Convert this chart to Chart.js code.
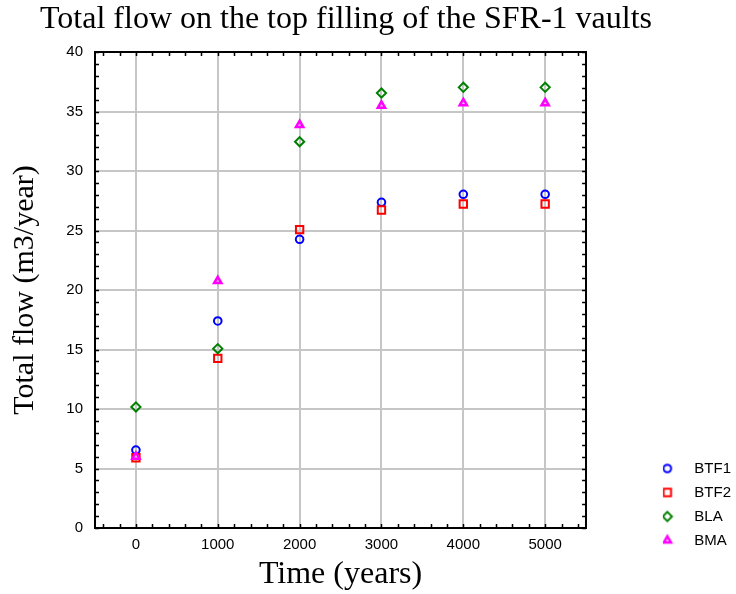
<!DOCTYPE html>
<html><head><meta charset="utf-8">
<script src="https://cdn.jsdelivr.net/npm/chart.js@4/dist/chart.umd.min.js"></script>
<style>html,body{margin:0;padding:0;background:#fff}</style>
</head><body>
<canvas id="c" width="736" height="594"></canvas>
<script>
// ---- data ----
const years = [0, 1000, 2000, 3000, 4000, 5000];
const btf1 = [6.55, 17.4, 24.26, 27.37, 28.04, 28.04];
const btf2 = [5.9, 14.26, 25.07, 26.72, 27.23, 27.23];
const bla  = [10.17, 15.07, 32.46, 36.55, 37.03, 37.03];
const bma  = [6.0, 20.76, 33.87, 35.5, 35.7, 35.7];
const seriesNames = ['BTF1', 'BTF2', 'BLA', 'BMA'];
const xTickValues = [0, 1000, 2000, 3000, 4000, 5000];
const yTickValues = [0, 5, 10, 15, 20, 25, 30, 35, 40];
const xMinorStep = 200;
const yMinorStep = 1;
const titleText = 'Total flow on the top filling of the SFR-1 vaults';
const xTitle = 'Time (years)';
const yTitle = 'Total flow (m3/year)';

// ---- styling ----
const seriesValues = [btf1, btf2, bla, bma];
const colors = ['#0000ff', '#ff0000', '#008000', '#ff00ff'];
const styles = ['circle', 'rect', 'rectRot', 'triangle'];
const radii = [3.8, 5.2, 4.6, 4.2];
const borderW = [2, 2, 2, 2.5];

const LEGEND_FONT = 15;
const LEGEND_PAD = 9;
const LEGEND_DY = 29;
const RIGHT_GAP = 76.75;
const TITLE_RIGHT = 692;

Chart.defaults.color = '#000';
Chart.defaults.font.family = '"Liberation Sans", Arial, sans-serif';

function legendMarker(i) {
  const W = 44, H = 18;
  const cv = document.createElement('canvas');
  cv.width = W; cv.height = H;
  const g = cv.getContext('2d');
  g.strokeStyle = colors[i];
  g.fillStyle = 'rgba(0,0,0,0)';
  g.lineWidth = borderW[i];
  // marker centre sits 27px left of the label text
  const cx = LEGEND_FONT / 2 + LEGEND_FONT / 2 - 27 + W / 2;
  if (Chart.helpers && Chart.helpers.drawPoint) {
    Chart.helpers.drawPoint(g, {pointStyle: styles[i], radius: radii[i], borderWidth: borderW[i], rotation: 0}, cx, H / 2);
  }
  return cv;
}

const datasets = seriesNames.map((name, i) => ({
  label: name,
  data: years.map((t, k) => ({x: t, y: seriesValues[i][k]})),
  pointStyle: styles[i],
  pointRadius: radii[i],
  pointHoverRadius: radii[i],
  pointBorderWidth: borderW[i],
  borderColor: colors[i],
  backgroundColor: 'rgba(0,0,0,0)',
  showLine: false,
  order: seriesNames.length - i
}));

const minorTicks = {
  id: 'minorTicks',
  afterDraw(chart) {
    const {ctx, chartArea: a, scales: {x, y}} = chart;
    ctx.save();
    ctx.strokeStyle = '#000';
    ctx.lineWidth = 1.5;
    ctx.beginPath();
    for (let v = y.min; v <= y.max + 1e-9; v += yMinorStep) {
      const p = Math.round(y.getPixelForValue(v)) + 0.5;
      ctx.moveTo(a.left, p); ctx.lineTo(a.left + 4, p);
      ctx.moveTo(a.right - 4, p); ctx.lineTo(a.right, p);
    }
    const start = Math.ceil(x.min / xMinorStep) * xMinorStep;
    for (let v = start; v <= x.max + 1e-9; v += xMinorStep) {
      const p = Math.round(x.getPixelForValue(v)) + 0.5;
      ctx.moveTo(p, a.top); ctx.lineTo(p, a.top + 4);
      ctx.moveTo(p, a.bottom - 4); ctx.lineTo(p, a.bottom);
    }
    ctx.stroke();
    ctx.restore();
  }
};

const layoutTweak = {
  id: 'layoutTweak',
  afterLayout(chart) {
    const lg = chart.legend;
    if (lg) { lg.top += LEGEND_DY; lg.bottom += LEGEND_DY; }
    const tb = chart.titleBlock;
    if (tb) { tb.left = 0; tb.right = TITLE_RIGHT; }
  }
};

const gridColor = '#c6c6c6';
const borderOpts = {display: true, color: '#000', width: 2};
const serif = '"Liberation Serif", "Times New Roman", serif';

new Chart(document.getElementById('c'), {
  type: 'scatter',
  data: {datasets},
  options: {
    responsive: false,
    animation: false,
    layout: {padding: {left: 0, top: 0, bottom: 0, right: -5}},
    plugins: {
      tooltip: {enabled: false},
      title: {
        display: true,
        text: titleText,
        fullSize: true,
        color: '#000',
        font: {family: serif, size: 32, weight: 'normal'},
        padding: {top: 0.3, bottom: 13.3}
      },
      legend: {
        display: true,
        position: 'right',
        align: 'end',
        fullSize: false,
        labels: {
          usePointStyle: true,
          padding: LEGEND_PAD,
          font: {size: LEGEND_FONT},
          color: '#000',
          generateLabels(chart) {
            return chart.data.datasets.map((ds, i) => ({
              text: ds.label,
              fillStyle: 'rgba(0,0,0,0)',
              strokeStyle: colors[i],
              lineWidth: borderW[i],
              pointStyle: legendMarker(i),
              hidden: false,
              datasetIndex: i,
              fontColor: '#000'
            }));
          }
        }
      }
    },
    scales: {
      x: {
        type: 'linear',
        position: 'bottom',
        min: -500, max: 5500,
        afterBuildTicks(s) { s.ticks = xTickValues.map(v => ({value: v})); },
        afterFit(s) { s.height = 66; },
        grid: {color: gridColor, lineWidth: 2, drawTicks: false},
        border: borderOpts,
        ticks: {font: {size: 15}, padding: 8, maxRotation: 0, color: '#000', callback: v => String(v)},
        title: {
          display: true, text: xTitle, color: '#000',
          font: {family: serif, size: 32},
          padding: {top: 0, bottom: 0}
        }
      },
      y: {
        type: 'linear',
        position: 'left',
        min: 0, max: 40,
        afterBuildTicks(s) { s.ticks = yTickValues.map(v => ({value: v})); },
        afterFit(s) { s.width = 95; },
        grid: {color: gridColor, lineWidth: 2, drawTicks: false},
        border: borderOpts,
        ticks: {font: {size: 15}, padding: 12, color: '#000', callback: v => String(v)},
        title: {
          display: true, text: yTitle, color: '#000',
          font: {family: serif, size: 30},
          padding: {top: 7, bottom: 7}
        }
      },
      x2: {
        type: 'linear',
        position: 'top',
        min: -500, max: 5500,
        afterFit(s) { s.height = 0; },
        grid: {display: false, drawTicks: false},
        border: borderOpts,
        ticks: {display: false}
      },
      y2: {
        type: 'linear',
        position: 'right',
        min: 0, max: 40,
        afterFit(s) { s.width = RIGHT_GAP; },
        grid: {display: false, drawTicks: false},
        border: borderOpts,
        ticks: {display: false}
      }
    }
  },
  plugins: [minorTicks, layoutTweak]
});
</script>
</body></html>
